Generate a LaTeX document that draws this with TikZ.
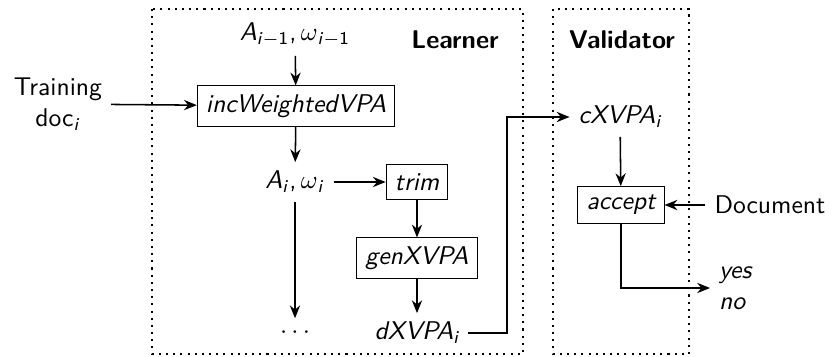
\documentclass[tikz,border=0pt]{standalone}
\renewcommand{\familydefault}{\sfdefault}
\usetikzlibrary{arrows.meta, positioning}
\newcommand{\isub}[1]{\textsubscript{\textit{#1}}}

\begin{document}
\begin{tikzpicture}[x=0.39pt, y=-0.39pt]
  % Styles
  \tikzset{region/.style={draw, dotted, thick}}
  \tikzset{proc/.style={draw, font=\itshape}}
  \tikzset{data/.style={font=\itshape}}
  \tikzset{arr/.style={-{Stealth[length=5pt, width=4pt]}, semithick}}

  \useasboundingbox (0,0) rectangle (832,357);

  % Regions
  \draw[region] (152,9) rectangle (523,354);
  \draw[region] (553,9) rectangle (689,354);
  \node[font=\bfseries] (learner) at (455,40) {Learner};
  \node[font=\bfseries] (validator) at (622,40) {Validator};

  % Learner
  \node (prev) at (295,35) {\textit{A}\textsubscript{\textit{i}$-$1},\,$\omega$\textsubscript{\textit{i}$-$1}};
  \node[proc] (inc) at (296,106) {incWeightedVPA};
  \node[align=center] (training) at (58,104) {Training\\doc\isub{i}};
  \node (cur) at (295,182) {\textit{A}\isub{i},\,$\omega$\isub{i}};
  \node[proc] (trim) at (417,182) {trim};
  \node[proc] (gen) at (417,258) {genXVPA};
  \node[data] (dxvpa) at (417,333) {dXVPA\isub{i}};
  \node (dots) at (295,333) {$\cdots$};

  % Validator
  \node[data] (cxvpa) at (620,117) {cXVPA\isub{i}};
  \node[proc] (accept) at (621,205) {accept};
  \node (doc) at (770,205) {Document};
  \node[data, align=left, anchor=west] (result) at (710,288) {yes\\no};

  % Connectors
  \draw[arr] (prev) -- (inc);
  \draw[arr] (training) -- (inc);
  \draw[arr] (inc) -- (cur);
  \draw[arr] (cur) -- (trim);
  \draw[arr] (cur) -- (dots);
  \draw[arr] (trim) -- (gen);
  \draw[arr] (gen) -- (dxvpa);
  \draw[arr] (dxvpa.east) -| (507,117) -- (cxvpa.west);
  \draw[arr] (cxvpa) -- (accept);
  \draw[arr] (doc) -- (accept);
  \draw[arr] (accept.south) |- (result.west);
\end{tikzpicture}
\end{document}
